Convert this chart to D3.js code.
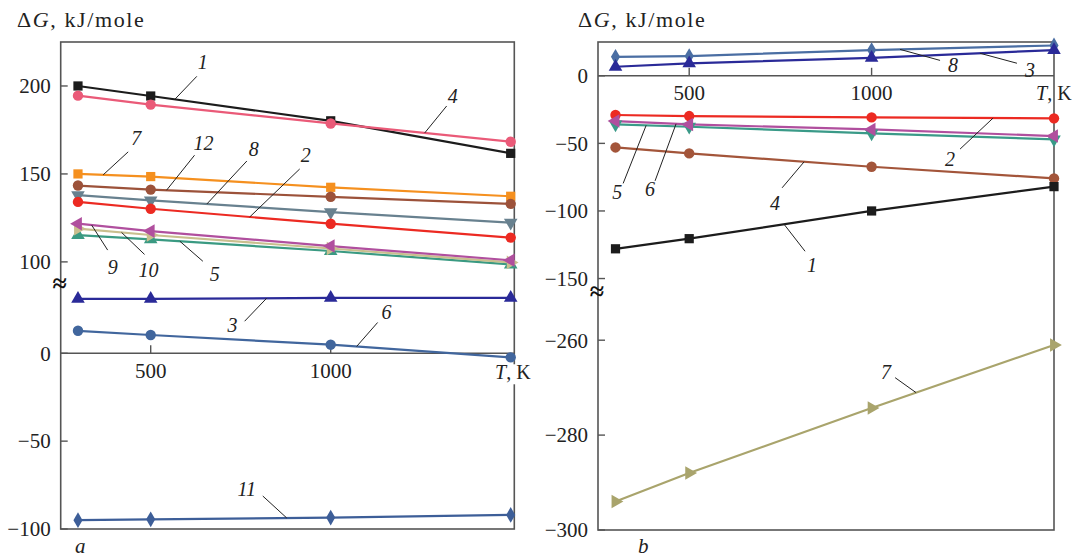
<!DOCTYPE html>
<html><head><meta charset="utf-8">
<script src="https://cdn.jsdelivr.net/npm/d3@7"></script>
<style>
body{margin:0;background:#fff;}
</style></head><body>
<svg id="chart" width="1078" height="557" font-family="'Liberation Serif','Times New Roman','DejaVu Serif',serif"></svg>
<script>
// Temperatures, K
const temps = [298, 500, 1000, 1500];

// Panel a: ΔG, kJ/mole
const a1  = [200, 194.3, 180.2, 161.7];
const a4  = [194.5, 189.4, 178.7, 168.3];
const a7  = [150, 148.5, 142.4, 137.3];
const a12 = [143.4, 141.1, 137, 133];
const a8  = [137.9, 135, 128.3, 122.3];
const a2  = [134.1, 130.2, 121.7, 113.8];
const a9  = [121.7, 117.5, 109, 100.9];
const a10 = [118.9, 115.3, 107.6, 99.7];
const a5  = [115.2, 112.8, 106.2, 98.5];
const a3  = [31, 31, 31.5, 31.5];
const a6  = [12.8, 10.4, 4.9, -2.3];
const a11 = [-95, -94.5, -93.5, -92];

// Panel b: ΔG, kJ/mole
const b8 = [14, 14.6, 19, 22.4];
const b3 = [6.7, 9.2, 13.3, 19];
const b2 = [-29, -29.8, -30.8, -31.5];
const b6 = [-33.5, -36, -39.7, -44.6];
const b5 = [-36, -37.7, -42.6, -47];
const b4 = [-53, -57.4, -67.3, -75.9];
const b1 = [-128, -120.5, -100, -82];
const b7 = [-294, -288, -274.3, -261];

// Tick labels
const xTicks = [500, 1000];
const yTicksA = [-100, -50, 0, 100, 150, 200];
const yTicksB = [-300, -280, -260, -150, -100, -50, 0];

// Series in drawing order: [curve number, values]
const seriesA = [["1", a1], ["4", a4], ["7", a7], ["12", a12], ["8", a8], ["2", a2],
                 ["5", a5], ["10", a10], ["9", a9], ["3", a3], ["6", a6], ["11", a11]];
const seriesB = [["8", b8], ["3", b3], ["2", b2], ["5", b5], ["6", b6], ["4", b4], ["1", b1], ["7", b7]];

// Look of each curve
const styleA = {
  "1":  {color: "#1c1c1c", shape: "square"},
  "4":  {color: "#ea5a78", shape: "circle"},
  "7":  {color: "#f5901f", shape: "square"},
  "12": {color: "#9c523a", shape: "circle"},
  "8":  {color: "#68818f", shape: "triDown"},
  "2":  {color: "#ec2a22", shape: "circle"},
  "9":  {color: "#b04f9e", shape: "triLeft"},
  "10": {color: "#c9bf8e", shape: "triRight"},
  "5":  {color: "#3a9a82", shape: "triUp"},
  "3":  {color: "#2a2a98", shape: "triUp"},
  "6":  {color: "#41669d", shape: "circle"},
  "11": {color: "#3d5e98", shape: "diamond"}
};
const styleB = {
  "8": {color: "#4a6ea3", shape: "diamond"},
  "3": {color: "#2a2a98", shape: "triUp"},
  "2": {color: "#ec2a22", shape: "circle"},
  "6": {color: "#b04f9e", shape: "triLeft"},
  "5": {color: "#3a9a88", shape: "triDown"},
  "4": {color: "#a3553a", shape: "circle"},
  "1": {color: "#1c1c1c", shape: "square"},
  "7": {color: "#a9a46c", shape: "triRight"}
};

// Curve labels: tip sits on the curve at temperature t; leader runs to (dx, dy), number at (tx, ty)
const labelsA = [
  {key: "1",  t: 567,  dx: 22,  dy: -23, tx: 28,  ty: -37},
  {key: "4",  t: 1261, dx: 22,  dy: -27, tx: 28,  ty: -37},
  {key: "7",  t: 368,  dx: 25,  dy: -23, tx: 33,  ty: -37},
  {key: "12", t: 544,  dx: 28,  dy: -35, tx: 37,  ty: -47},
  {key: "8",  t: 656,  dx: 40,  dy: -43, tx: 47,  ty: -55},
  {key: "2",  t: 775,  dx: 50,  dy: -48, tx: 56,  ty: -62},
  {key: "9",  t: 336,  dx: 16,  dy: 25,  tx: 21,  ty: 42},
  {key: "10", t: 419,  dx: 23,  dy: 22,  tx: 27,  ty: 38},
  {key: "5",  t: 581,  dx: 23,  dy: 20,  tx: 35,  ty: 33},
  {key: "3",  t: 822,  dx: -22, dy: 23,  tx: -34, ty: 27},
  {key: "6",  t: 1072, dx: 21,  dy: -24, tx: 30,  ty: -34},
  {key: "11", t: 878,  dx: -24, dy: -22, tx: -40, ty: -29}
];
const labelsB = [
  {key: "8", t: 1078, dx: 40,  dy: 11, tx: 53,  ty: 16},
  {key: "3", t: 1297, dx: 37,  dy: 10, tx: 50,  ty: 17},
  {key: "2", t: 1333, dx: -33, dy: 31, tx: -43, ty: 41},
  {key: "5", t: 382,  dx: -23, dy: 58, tx: -29, ty: 67},
  {key: "6", t: 464,  dx: -21, dy: 57, tx: -26, ty: 65},
  {key: "4", t: 815,  dx: -22, dy: 26, tx: -29, ty: 41},
  {key: "1", t: 760,  dx: 21,  dy: 27, tx: 28,  ty: 41},
  {key: "7", t: 1122, dx: -21, dy: -15, tx: -30, ty: -21}
];

const TICK_FONT = 21, TITLE_FONT = 22, NUM_FONT = 20, TK_FONT = 20;
const svg = d3.select("#chart");

const shapes = {
  square:   {type: d3.symbolSquare,   size: 85, rot: 0},
  circle:   {type: d3.symbolCircle,   size: 85, rot: 0},
  triUp:    {type: d3.symbolTriangle, size: 80, rot: 0},
  triDown:  {type: d3.symbolTriangle, size: 80, rot: 180},
  triLeft:  {type: d3.symbolTriangle, size: 80, rot: -90},
  triRight: {type: d3.symbolTriangle, size: 80, rot: 90},
  diamond:  {type: d3.symbolDiamond,  size: 72, rot: 0}
};

function valueAt(vals, t) {
  return d3.scaleLinear().domain(temps).range(vals)(t);
}

function drawPanel(cfg) {
  const g = svg.append("g").attr("fill", "#222");
  const {x, y, series, styles, labels} = cfg;
  const [x0, x1] = x.range();
  const dom = y.domain();
  const yTop = y(dom[dom.length - 1]);
  const yBot = y(dom[0]);

  // frame
  g.append("rect").attr("x", x0).attr("y", yTop).attr("width", x1 - x0).attr("height", yBot - yTop)
    .attr("fill", "none").attr("stroke", "#555").attr("stroke-width", 1.6);

  // zero line serving as the temperature axis
  const y0 = y(0);
  g.append("line").attr("x1", x0).attr("x2", x1).attr("y1", y0).attr("y2", y0)
    .attr("stroke", "#555").attr("stroke-width", 1.6);
  g.selectAll(".xt").data(xTicks).join("line")
    .attr("x1", d => x(d)).attr("x2", d => x(d)).attr("y1", y0).attr("y2", y0 - 8)
    .attr("stroke", "#555").attr("stroke-width", 1.4);
  g.selectAll(".xl").data(xTicks).join("text")
    .attr("x", d => x(d)).attr("y", y0 + cfg.xLabelDy).attr("text-anchor", "middle")
    .attr("font-size", TICK_FONT).text(d => d);

  // y ticks
  g.selectAll(".yt").data(cfg.yTicks).join("line")
    .attr("x1", x0).attr("x2", x0 + 7).attr("y1", d => y(d)).attr("y2", d => y(d))
    .attr("stroke", "#555").attr("stroke-width", 1.4);
  g.selectAll(".yl").data(cfg.yTicks).join("text")
    .attr("x", x0 - 10).attr("y", d => y(d)).attr("dy", "0.35em").attr("text-anchor", "end")
    .attr("font-size", TICK_FONT).text(d => d < 0 ? "\u2212" + Math.abs(d) : d);

  // axis break mark
  g.append("text").attr("x", x0 - 1).attr("y", cfg.breakY).attr("dy", "0.35em")
    .attr("text-anchor", "middle").attr("font-size", 26).attr("font-weight", "bold")
    .attr("fill", "#111").text("\u2248");

  // T, K label
  if (cfg.tkBox) {
    g.append("rect").attr("x", cfg.tkX - 2).attr("y", y0 + cfg.tkDy - 15).attr("width", 42).attr("height", 20)
      .attr("fill", "#fff");
  }
  const tk = g.append("text").attr("x", cfg.tkX).attr("y", y0 + cfg.tkDy).attr("font-size", TK_FONT);
  tk.append("tspan").attr("font-style", "italic").text("T");
  tk.append("tspan").text(", K");

  // title
  const ttl = g.append("text").attr("x", cfg.titleX).attr("y", 27).attr("font-size", TITLE_FONT)
    .attr("letter-spacing", 1.6);
  ttl.append("tspan").text("\u0394");
  ttl.append("tspan").attr("font-style", "italic").text("G");
  ttl.append("tspan").text(", kJ/mole");

  // panel letter
  g.append("text").attr("x", cfg.letterX).attr("y", 553).attr("font-size", 21)
    .attr("font-style", "italic").text(cfg.letter);

  // curves
  const line = d3.line().x((d, i) => x(temps[i])).y(d => y(d));
  series.forEach(([key, vals]) => {
    g.append("path").attr("d", line(vals)).attr("fill", "none")
      .attr("stroke", styles[key].color).attr("stroke-width", 2.2);
  });
  series.forEach(([key, vals]) => {
    const st = styles[key];
    const sh = shapes[st.shape];
    const sym = d3.symbol().type(sh.type).size(sh.size);
    g.selectAll(null).data(vals).join("path")
      .attr("d", sym)
      .attr("transform", (d, i) => `translate(${x(temps[i])},${y(d)}) rotate(${sh.rot})`)
      .attr("fill", st.color);
  });

  // curve numbers with leaders
  const lookup = Object.fromEntries(series);
  labels.forEach(l => {
    const px = x(l.t), py = y(valueAt(lookup[l.key], l.t));
    g.append("line").attr("x1", px).attr("y1", py).attr("x2", px + l.dx).attr("y2", py + l.dy)
      .attr("stroke", "#222").attr("stroke-width", 1);
    g.append("text").attr("x", px + l.tx).attr("y", py + l.ty).attr("dy", "0.35em")
      .attr("text-anchor", "middle").attr("font-size", NUM_FONT).attr("font-style", "italic")
      .text(l.key);
  });
}

// Panel a: broken value axis (gap between 40 and 88)
const xA = d3.scaleLinear().domain([250, 1510]).range([60.7, 514.3]);
const yA = d3.scaleLinear().domain([-100, 40, 88, 225]).range([529, 283, 283, 42]);
drawPanel({x: xA, y: yA, series: seriesA, styles: styleA, labels: labelsA,
  yTicks: yTicksA, xLabelDy: 25, breakY: 283, tkX: 495, tkDy: 26, tkBox: true,
  titleX: 17, letter: "a", letterX: 75});

// Panel b: broken value axis (gap between -249 and -157)
const xB = d3.scaleLinear().domain([250, 1500]).range([598, 1054]);
const yB = d3.scaleLinear().domain([-300, -249, -157, 25]).range([530, 288, 288, 42]);
drawPanel({x: xB, y: yB, series: seriesB, styles: styleB, labels: labelsB,
  yTicks: yTicksB, xLabelDy: 24, breakY: 291, tkX: 1036, tkDy: 24, tkBox: false,
  titleX: 578, letter: "b", letterX: 638});
</script>
</body></html>
